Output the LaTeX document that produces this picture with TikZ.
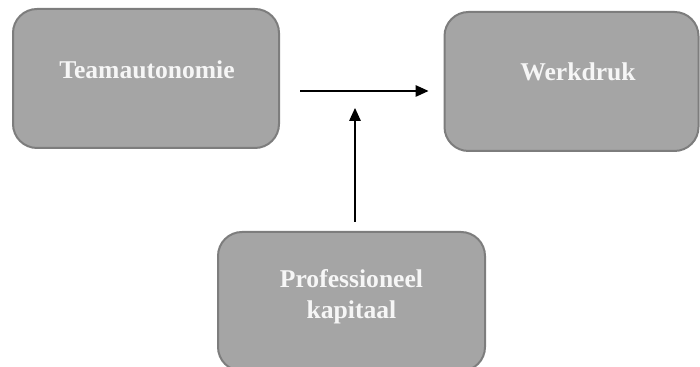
\documentclass[tikz,border=0pt]{standalone}
\usepackage{fontspec}
\setmainfont{Liberation Serif}
\usetikzlibrary{arrows.meta}
\definecolor{boxgray}{RGB}{165,165,165}
\definecolor{edgegray}{RGB}{125,125,125}
\definecolor{labelwhite}{RGB}{246,246,246}

\begin{document}
\begin{tikzpicture}[x=0.5pt,y=-0.5pt,
  box/.style={draw=edgegray,line width=1pt,rounded corners=12pt,fill=boxgray,
              minimum width=#1,minimum height=69.5pt,inner sep=0pt},
  box/.default=133pt,
  boxtext/.style={text=labelwhite,align=center,inner sep=0pt,
                  font=\fontsize{12.8}{15.5}\selectfont\bfseries},
  arrow/.style={-{Triangle[length=6.5pt,width=5.8pt]},line width=0.6pt,draw=black}
]
  \useasboundingbox (0,0) rectangle (700,367);
  % boxes
  \node[box] (ta) at (146,78.5) {};
  \node[box=127pt] (wd) at (571.5,81.5) {};
  \node[box=133.5pt] (pk) at (351.5,301.5) {};
  \node[boxtext] (tatext) at (147,70) {Teamautonomie};
  \node[boxtext] (wdtext) at (578,71.5) {Werkdruk};
  \node[boxtext] (pktext) at (351.5,296.5) {Professioneel\\kapitaal};
  % connectors
  \coordinate (hline) at (0,91);
  \coordinate (vline) at (355,0);
  \draw[arrow,shorten <=10pt,shorten >=7.5pt] (ta.east |- hline) -- (wd.west |- hline);
  \draw[arrow,shorten <=4.5pt,shorten >=8.5pt] (vline |- pk.north) -- (vline |- hline);
\end{tikzpicture}
\end{document}
